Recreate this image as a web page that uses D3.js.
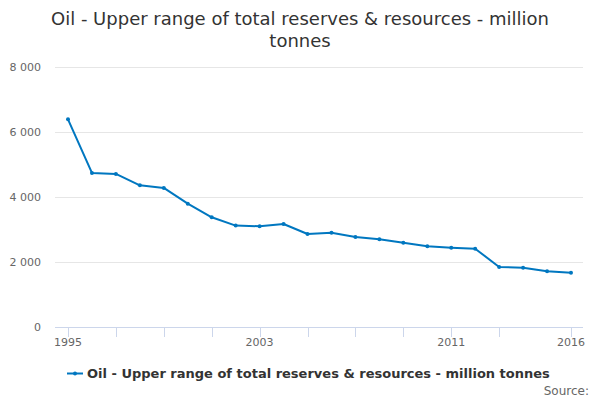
<!DOCTYPE html>
<html>
<head>
<meta charset="utf-8">
<script src="https://cdn.jsdelivr.net/npm/d3@7"></script>
<style>
  body { margin: 0; background: #fff; }
  svg { font-family: "DejaVu Sans", sans-serif; }
</style>
</head>
<body>
<script>
// chart data
let years = [1995, 1996, 1997, 1998, 1999, 2000, 2001, 2002, 2003, 2004, 2005,
  2006, 2007, 2008, 2009, 2010, 2011, 2012, 2013, 2014, 2015, 2016];
let values = [6390, 4740, 4710, 4360, 4280, 3795, 3375, 3120, 3100, 3170, 2862,
  2902, 2770, 2700, 2595, 2482, 2440, 2410, 1846, 1825, 1713, 1671];
let yTicks = [0, 2000, 4000, 6000, 8000];
let xTickMarks = [1995, 1997, 1999, 2001, 2003, 2005, 2007, 2009, 2011, 2013, 2016];
let xTickLabels = [1995, 2003, 2011, 2016];
let seriesName = 'Oil - Upper range of total reserves & resources - million tonnes';

let width = 600;
let height = 400;
let color = '#0077c0';

let svg = d3.select(document.body).append('svg')
  .attr('width', width)
  .attr('height', height);

let x = d3.scaleLinear().domain([1995, 2016]).range([68, 571]);
let y = d3.scaleLinear().domain([0, 8000]).range([327, 67]);
let plotLeft = 55, plotRight = 583;

// title
let title = svg.append('text')
  .attr('text-anchor', 'middle')
  .style('font-size', '18px')
  .style('fill', '#333');
title.append('tspan').attr('x', 300).attr('y', 25).text('Oil - Upper range of total reserves & resources - million');
title.append('tspan').attr('x', 300).attr('y', 47).text('tonnes');

// grid lines
svg.append('g')
  .selectAll('line')
  .data(yTicks.filter(d => d > 0))
  .join('line')
    .attr('x1', plotLeft)
    .attr('x2', plotRight)
    .attr('y1', d => y(d) + 0.5)
    .attr('y2', d => y(d) + 0.5)
    .attr('stroke', '#e6e6e6');

// y labels
let fmt = d => d3.format(',')(d).replace(/,/g, '\u2009');
svg.append('g')
  .style('font-size', '11px')
  .style('fill', '#666')
  .selectAll('text')
  .data(yTicks)
  .join('text')
    .attr('x', 41)
    .attr('y', d => y(d))
    .attr('dy', '0.35em')
    .attr('text-anchor', 'end')
    .text(d => d3.format(',')(d).replace(/,/g, ' '));

// x axis
svg.append('line')
  .attr('x1', plotLeft)
  .attr('x2', plotRight)
  .attr('y1', 327.5)
  .attr('y2', 327.5)
  .attr('stroke', '#ccd6eb');

svg.append('g')
  .selectAll('line')
  .data(xTickMarks)
  .join('line')
    .attr('x1', d => Math.round(x(d)) + 0.5)
    .attr('x2', d => Math.round(x(d)) + 0.5)
    .attr('y1', 327)
    .attr('y2', 337)
    .attr('stroke', '#ccd6eb');

svg.append('g')
  .style('font-size', '11px')
  .style('fill', '#666')
  .selectAll('text')
  .data(xTickLabels)
  .join('text')
    .attr('x', d => x(d))
    .attr('y', 346)
    .attr('text-anchor', 'middle')
    .text(d => d);

// line
let line = d3.line()
  .x((d, i) => x(years[i]))
  .y(d => y(d));

svg.append('path')
  .datum(values)
  .attr('d', line)
  .attr('fill', 'none')
  .attr('stroke', color)
  .attr('stroke-width', 2)
  .attr('stroke-linejoin', 'round');

svg.append('g')
  .selectAll('circle')
  .data(values)
  .join('circle')
    .attr('cx', (d, i) => x(years[i]))
    .attr('cy', d => y(d))
    .attr('r', 2)
    .attr('fill', color);

// legend
svg.append('line')
  .attr('x1', 67)
  .attr('x2', 83)
  .attr('y1', 373.5)
  .attr('y2', 373.5)
  .attr('stroke', color)
  .attr('stroke-width', 2);
svg.append('circle')
  .attr('cx', 75)
  .attr('cy', 373.5)
  .attr('r', 2)
  .attr('fill', color);
svg.append('text')
  .attr('x', 87)
  .attr('y', 378)
  .style('font-size', '13px')
  .style('font-weight', 'bold')
  .style('fill', '#333')
  .text(seriesName);

svg.append('text')
  .attr('x', 589)
  .attr('y', 395)
  .attr('text-anchor', 'end')
  .style('font-size', '12px')
  .style('fill', '#666')
  .text('Source:');
</script>
</body>
</html>
